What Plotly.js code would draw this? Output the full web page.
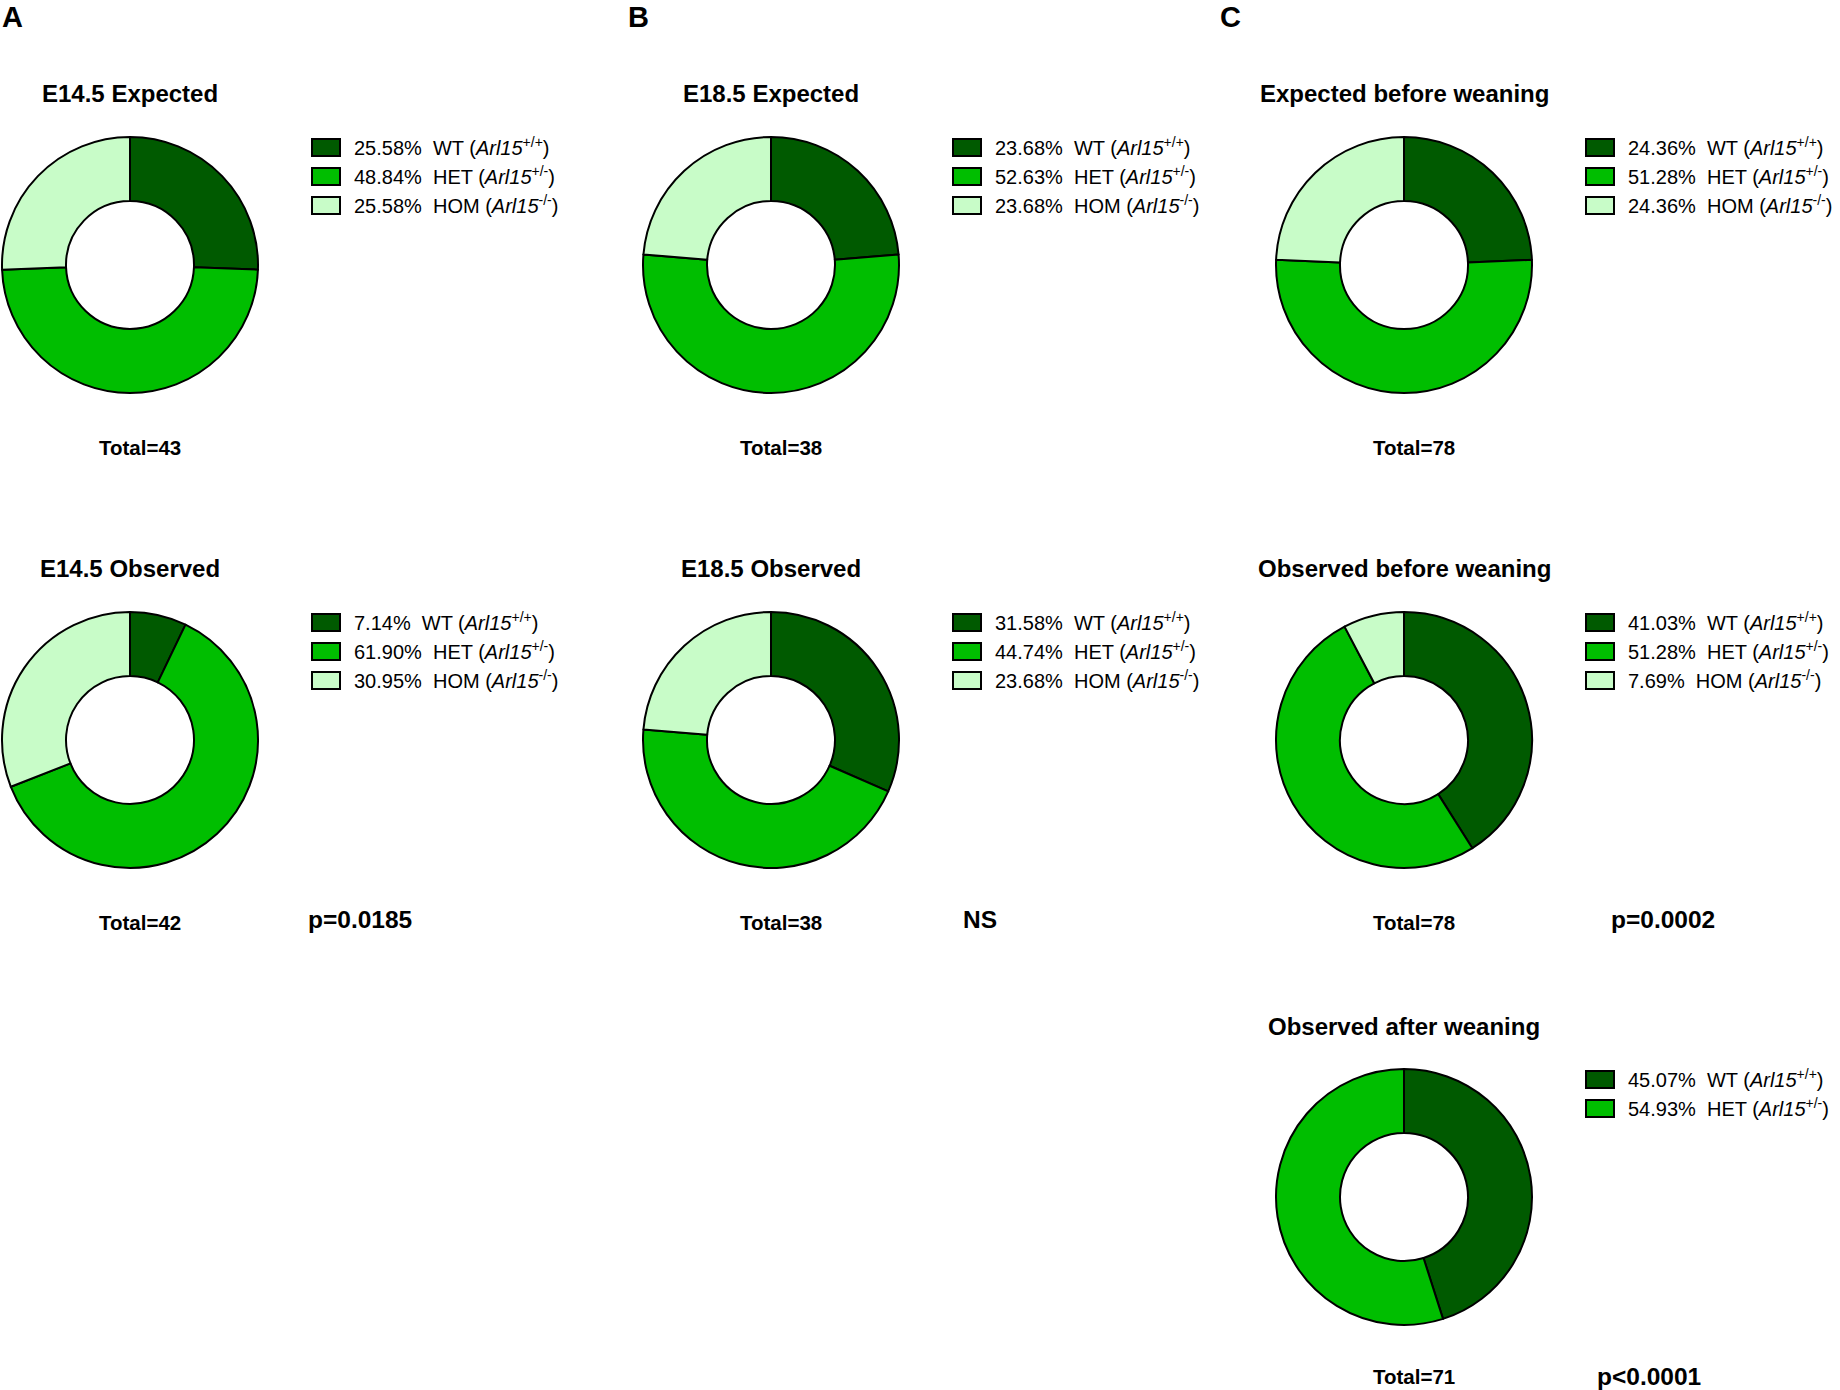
<!DOCTYPE html>
<html>
<head>
<meta charset="utf-8">
<script src="https://cdn.plot.ly/plotly-3.0.1.min.js"></script>
<style>
  html, body { margin: 0; padding: 0; background: #ffffff; }
  #chart { width: 1840px; height: 1390px; }
</style>
</head>
<body>
<div id="chart"></div>
<script>
// ---------------- data ----------------
const genotypes = ['WT', 'HET', 'HOM'];
const alleles = ['+/+', '+/-', '-/-'];
const sliceColors = ['#005A00', '#00BE00', '#C8FCC8'];

const e145Expected = [25.58, 48.84, 25.58];
const e145Observed = [7.14, 61.90, 30.95];
const e185Expected = [23.68, 52.63, 23.68];
const e185Observed = [31.58, 44.74, 23.68];
const beforeWeaningExpected = [24.36, 51.28, 24.36];
const beforeWeaningObserved = [41.03, 51.28, 7.69];
const afterWeaningObserved = [45.07, 54.93];

const chartTitles = ['E14.5 Expected', 'E14.5 Observed', 'E18.5 Expected', 'E18.5 Observed',
  'Expected before weaning', 'Observed before weaning', 'Observed after weaning'];
const totals = [43, 42, 38, 38, 78, 78, 71];
const pValues = ['p=0.0185', 'NS', 'p=0.0002', 'p<0.0001'];
const panelLetters = ['A', 'B', 'C'];

const seriesList = [e145Expected, e145Observed, e185Expected, e185Observed,
  beforeWeaningExpected, beforeWeaningObserved, afterWeaningObserved];

// ---------------- layout geometry ----------------
const W = 1840, H = 1390;
const px = x => x / W;
const py = y => 1 - y / H;
const R = 128;
const centers = [[130, 265], [130, 740], [771, 265], [771, 740], [1404, 265], [1404, 740], [1404, 1197]];
const letterPos = [[0, 17], [626, 17], [1218, 17]];
const pPos = [[306, 919], [961, 919], [1609, 919], [1595, 1376]];
const FONT = 'Liberation Sans, Arial, Helvetica, sans-serif';

const traces = [];
const layout = {
  width: W, height: H,
  margin: {l: 0, r: 0, t: 0, b: 0},
  paper_bgcolor: '#ffffff',
  plot_bgcolor: '#ffffff',
  showlegend: true,
  annotations: []
};

seriesList.forEach((vals, i) => {
  const [cx, cy] = centers[i];
  const legendId = i === 0 ? 'legend' : 'legend' + (i + 1);
  // zero-width suffix keeps labels unique per chart so no legend entry is merged away
  const uniq = '\u200b'.repeat(i + 1);
  const labels = vals.map((v, j) =>
    v.toFixed(2) + '%\u00a0\u00a0' + genotypes[j] + ' (<i>Arl15</i><sup>' + alleles[j] + '</sup>)' + uniq);
  traces.push({
    type: 'pie',
    values: vals,
    labels: labels,
    sort: false,
    direction: 'clockwise',
    rotation: 0,
    hole: 0.5,
    textinfo: 'none',
    hoverinfo: 'none',
    legend: legendId,
    marker: {colors: sliceColors.slice(0, vals.length), line: {color: '#000000', width: 2}},
    domain: {x: [px(cx - R), px(cx + R)], y: [py(cy + R), py(cy - R)]}
  });
  layout[legendId] = {
    x: px(cx + 168), y: py(cy - 137),
    xanchor: 'left', yanchor: 'top',
    bgcolor: 'rgba(0,0,0,0)', borderwidth: 0,
    itemwidth: 46,
    font: {family: FONT, size: 20, color: '#000000'}
  };
  layout.annotations.push({
    xref: 'paper', yref: 'paper', x: px(cx), y: py(cy - 171),
    xanchor: 'center', yanchor: 'middle', showarrow: false,
    text: chartTitles[i],
    font: {family: FONT, size: 24, color: '#000000', weight: 'bold'}
  });
  layout.annotations.push({
    xref: 'paper', yref: 'paper', x: px(cx + 10), y: py(Math.min(cy + 183, 1376)),
    xanchor: 'center', yanchor: 'middle', showarrow: false,
    text: 'Total=' + totals[i],
    font: {family: FONT, size: 20.5, color: '#000000', weight: 'bold'}
  });
});

panelLetters.forEach((t, i) => {
  layout.annotations.push({
    xref: 'paper', yref: 'paper', x: px(letterPos[i][0]), y: py(letterPos[i][1]),
    xanchor: 'left', yanchor: 'middle', showarrow: false,
    text: t,
    font: {family: FONT, size: 29, color: '#000000', weight: 'bold'}
  });
});

pValues.forEach((t, i) => {
  layout.annotations.push({
    xref: 'paper', yref: 'paper', x: px(pPos[i][0]), y: py(pPos[i][1]),
    xanchor: 'left', yanchor: 'middle', showarrow: false,
    text: t,
    font: {family: FONT, size: 24.5, color: '#000000', weight: 'bold'}
  });
});

Plotly.newPlot('chart', traces, layout, {staticPlot: true, displayModeBar: false}).then(() => {
  try {
    document.querySelectorAll('path.legendpie').forEach(p => {
      p.setAttribute('d', 'M14,8.5H-14V-8.5H14Z');
    });
  } catch (e) {}
});
</script>
</body>
</html>
